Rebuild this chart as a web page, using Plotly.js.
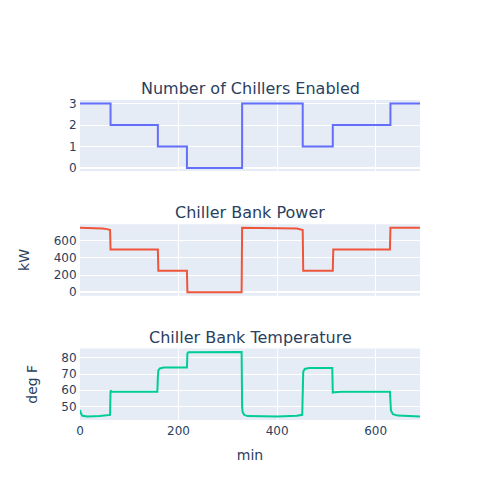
<!DOCTYPE html>
<html>
<head>
<meta charset="utf-8">
<script src="https://cdn.plot.ly/plotly-3.0.1.min.js"></script>
<style>body{margin:0;} #chart{width:500px;height:500px;}</style>
</head>
<body>
<div id="chart"></div>
<script>
// chillers on/off, change points (drawn as steps)
const chillerTime = [0, 62, 158, 217, 329, 452, 513, 630, 690];
const chillerCount = [3, 2, 1, 0, 3, 1, 2, 3, 3];

// chiller bank power (kW)
const powerTime = [0, 30, 45, 55, 61, 62, 158, 159, 217, 218, 328, 329, 420, 440, 450, 452, 453, 513, 514, 629, 630, 690];
const powerKW = [752, 750, 745, 737, 727, 500, 500, 250, 250, 0, 0, 752, 750, 744, 730, 727, 250, 250, 500, 500, 752, 752];

// chiller bank temperature (deg F)
const tempTime = [0, 2, 5, 15, 40, 61, 62, 64, 70, 157, 158, 159, 162, 170, 217, 218, 220, 328, 329, 330, 333, 340, 400, 440, 451, 452, 453, 456, 465, 512, 513, 516, 530, 629, 630, 631, 635, 645, 690];
const tempF = [47.8, 45.5, 44.2, 43.8, 44.0, 44.7, 59.8, 59.2, 59.0, 59.0, 68, 72.3, 73.5, 74.0, 74.0, 82.8, 83.5, 83.6, 50, 46.5, 44.8, 44.0, 43.8, 44.2, 44.8, 65, 71.5, 73.2, 73.7, 73.8, 58.6, 58.8, 59.0, 59.0, 50, 47.5, 45.2, 44.3, 43.8];

const titles = ['Number of Chillers Enabled', 'Chiller Bank Power', 'Chiller Bank Temperature'];

const gap = 0.165;
const h = (1 - 2 * gap) / 3;
const domains = [[1 - h, 1], [h + gap, 2 * h + gap], [0, h]];

const traces = [
    {type: 'scatter', mode: 'lines', x: chillerTime, y: chillerCount, line: {shape: 'hv', color: '#636efa', width: 2}, xaxis: 'x', yaxis: 'y'},
    {type: 'scatter', mode: 'lines', x: powerTime, y: powerKW, line: {color: '#EF553B', width: 2}, xaxis: 'x2', yaxis: 'y2'},
    {type: 'scatter', mode: 'lines', x: tempTime, y: tempF, line: {color: '#00cc96', width: 2}, xaxis: 'x3', yaxis: 'y3'},
];

const gridAxis = {gridcolor: 'white', zerolinecolor: 'white', zerolinewidth: 2, linecolor: 'white', ticks: ''};

const layout = {
    width: 500,
    height: 500,
    showlegend: false,
    paper_bgcolor: 'white',
    plot_bgcolor: '#E5ECF6',
    font: {family: '"DejaVu Sans", verdana, arial, sans-serif', color: '#2a3f5f', size: 12},
    margin: {l: 80, r: 80, t: 100, b: 80},
    xaxis: Object.assign({}, gridAxis, {anchor: 'y', domain: [0, 1], matches: 'x3', showticklabels: false}),
    xaxis2: Object.assign({}, gridAxis, {anchor: 'y2', domain: [0, 1], matches: 'x3', showticklabels: false}),
    xaxis3: Object.assign({}, gridAxis, {anchor: 'y3', domain: [0, 1], title: {text: 'min', standoff: 12}}),
    yaxis: Object.assign({}, gridAxis, {anchor: 'x', domain: domains[0]}),
    yaxis2: Object.assign({}, gridAxis, {anchor: 'x2', domain: domains[1], title: {text: 'kW', standoff: 20}}),
    yaxis3: Object.assign({}, gridAxis, {anchor: 'x3', domain: domains[2], title: {text: 'deg F', standoff: 20}}),
    annotations: titles.map((t, i) => ({
        text: t, showarrow: false, xref: 'paper', yref: 'paper',
        x: 0.5, xanchor: 'center', y: domains[i][1], yanchor: 'bottom',
        font: {size: 16},
    })),
};

Plotly.newPlot('chart', traces, layout, {displayModeBar: false});
</script>
</body>
</html>
